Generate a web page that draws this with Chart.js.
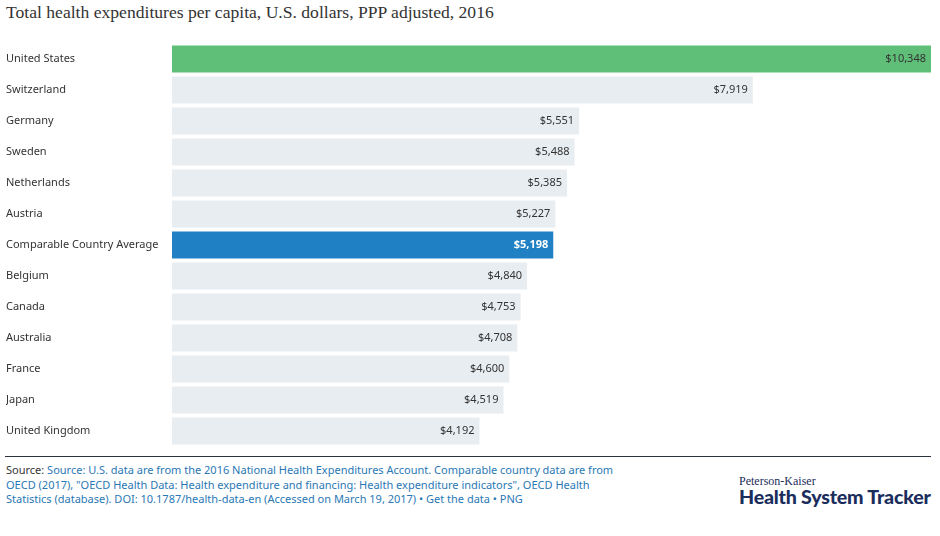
<!DOCTYPE html>
<html>
<head>
<meta charset="utf-8">
<script src="https://cdn.jsdelivr.net/npm/chart.js@4"></script>
<style>
    body { margin: 0; width: 940px; height: 536px; background: #fff; position: relative; overflow: hidden; font-family: "Noto Sans", sans-serif; }
    #title { position: absolute; left: 6px; top: 2px; font-family: "Liberation Serif", serif; font-size: 17.6px; color: #333; white-space: nowrap; }
    #chartBox { position: absolute; left: 0; top: 37px; width: 931px; height: 416px; }
    #rule { position: absolute; left: 5px; top: 456px; width: 926px; height: 1px; background: #2b3440; }
    #source { position: absolute; left: 6px; top: 463px; width: 612px; font-size: 11px; line-height: 14.5px; color: #333; }
    #source span { color: #2a78b5; }
    #logo { position: absolute; left: 739px; top: 474px; color: #1b2d5c; }
    #logo .small { font-family: "Liberation Serif", serif; font-size: 12px; }
    #logo .big { font-family: "Lato", sans-serif; font-weight: 900; font-size: 19.6px; margin-top: -4px; letter-spacing: -0.2px; }
</style>
</head>
<body>
<div id="title">Total health expenditures per capita, U.S. dollars, PPP adjusted, 2016</div>
<div id="chartBox"><canvas id="spendChart"></canvas></div>
<div id="rule"></div>
<div id="source">Source: <span>Source: U.S. data are from the 2016 National Health Expenditures Account. Comparable country data are from OECD (2017), "OECD Health Data: Health expenditure and financing: Health expenditure indicators", OECD Health Statistics (database). DOI: 10.1787/health-data-en (Accessed on March 19, 2017) • Get the data • PNG</span></div>
<div id="logo"><div class="small">Peterson-Kaiser</div><div class="big">Health System Tracker</div></div>

<script>
// Data
const countries = ['United States', 'Switzerland', 'Germany', 'Sweden', 'Netherlands', 'Austria',
    'Comparable Country Average', 'Belgium', 'Canada', 'Australia', 'France', 'Japan', 'United Kingdom'];
const spending = [10348, 7919, 5551, 5488, 5385, 5227, 5198, 4840, 4753, 4708, 4600, 4519, 4192];

// Bar colours: US green, average blue, everyone else light gray
function barColor(name) {
    if (name === 'United States') return '#5fbf78';
    if (name === 'Comparable Country Average') return '#1f80c4';
    return '#e8edf1';
}

// Draws "$x,xxx" inside the right end of each bar
const valueLabels = {
    id: 'valueLabels',
    afterDatasetsDraw(chart) {
        const ctx = chart.ctx;
        const meta = chart.getDatasetMeta(0);
        ctx.save();
        ctx.textAlign = 'right';
        ctx.textBaseline = 'middle';
        meta.data.forEach((bar, i) => {
            const isAvg = countries[i] === 'Comparable Country Average';
            ctx.font = (isAvg ? 'bold ' : '') + '11px "Noto Sans", sans-serif';
            ctx.fillStyle = isAvg ? '#ffffff' : '#333333';
            ctx.fillText('$' + spending[i].toLocaleString('en-US'), bar.x - 5, bar.y);
        });
        ctx.restore();
    }
};

const ctx = document.getElementById('spendChart').getContext('2d');
new Chart(ctx, {
    type: 'bar',
    data: {
        labels: countries,
        datasets: [{
            data: spending,
            backgroundColor: countries.map(barColor),
            borderWidth: 0,
            barPercentage: 0.87,
            categoryPercentage: 1.0
        }]
    },
    options: {
        indexAxis: 'y',
        responsive: true,
        maintainAspectRatio: false,
        animation: false,
        layout: { padding: { left: 6, right: 0, top: 0, bottom: 0 } },
        plugins: { legend: { display: false }, tooltip: { enabled: false } },
        scales: {
            x: { display: false, min: 0, max: 10348 },
            y: {
                grid: { display: false },
                border: { display: false },
                ticks: {
                    crossAlign: 'far',
                    padding: 0,
                    color: '#333',
                    font: { family: '"Noto Sans", sans-serif', size: 11 }
                },
                afterFit(scale) { scale.width = 166; }
            }
        }
    },
    plugins: [valueLabels]
});
</script>
</body>
</html>
